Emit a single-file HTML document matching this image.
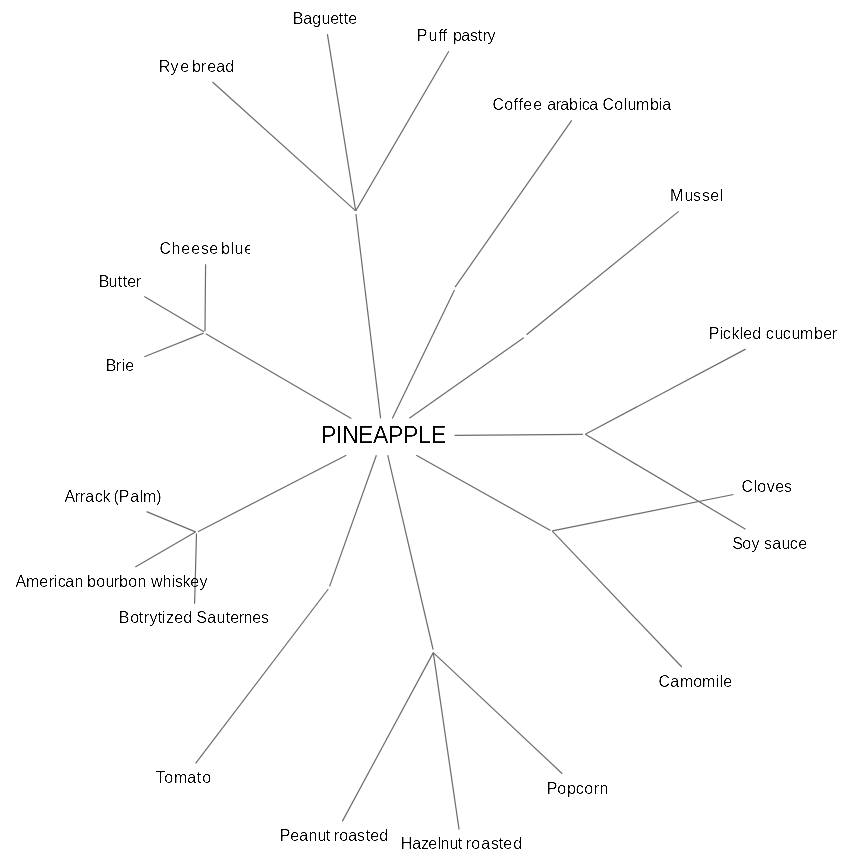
<!DOCTYPE html>
<html><head><meta charset="utf-8"><title>Pineapple</title>
<style>
html,body{margin:0;padding:0;background:#fff;}
body{width:851px;height:864px;position:relative;overflow:hidden;font-family:"Liberation Sans",sans-serif;}
svg{position:absolute;left:0;top:0;will-change:transform;}
text{font-family:"Liberation Sans",sans-serif;fill:#000;}
</style></head><body>
<svg width="851" height="864" viewBox="0 0 851 864">
<defs><clipPath id="cb"><rect x="150" y="235" width="100.3" height="30"/></clipPath>
<filter id="tf" filterUnits="userSpaceOnUse" x="0" y="0" width="851" height="864"><feComponentTransfer><feFuncA type="linear" slope="2.6" intercept="-1.05"/></feComponentTransfer></filter></defs>
<g stroke="#6c6c6c" stroke-width="1.2" fill="none" stroke-linecap="butt">
<line x1="355.7" y1="210.9" x2="212.5" y2="82"/>
<line x1="355.7" y1="210.9" x2="327.4" y2="34.1"/>
<line x1="355.7" y1="210.9" x2="448.8" y2="51.3"/>
<line x1="380.6" y1="418.4" x2="355.9" y2="214"/>
<line x1="392.3" y1="418.4" x2="454.5" y2="289.9"/>
<line x1="455.1" y1="287.1" x2="571.7" y2="120.3"/>
<line x1="409.3" y1="418.2" x2="523.7" y2="337.7"/>
<line x1="526.5" y1="334.8" x2="678.7" y2="211.4"/>
<line x1="454.6" y1="435.3" x2="582.9" y2="434.3"/>
<line x1="585.3" y1="434.3" x2="745.6" y2="349.1"/>
<line x1="585.3" y1="434.3" x2="745.6" y2="529.2"/>
<line x1="416.3" y1="455.2" x2="550.5" y2="530.5"/>
<line x1="552.3" y1="530.9" x2="733.5" y2="494.5"/>
<line x1="552.3" y1="531.2" x2="681.8" y2="667"/>
<line x1="387.7" y1="455.2" x2="433.1" y2="649.5"/>
<line x1="433.3" y1="652.6" x2="342.3" y2="821.4"/>
<line x1="433.3" y1="652.6" x2="459.1" y2="829.6"/>
<line x1="433.3" y1="652.6" x2="562.3" y2="773.7"/>
<line x1="376.4" y1="455.2" x2="329.6" y2="586.4"/>
<line x1="328.3" y1="589" x2="195.6" y2="763.3"/>
<line x1="346.3" y1="455.2" x2="197.9" y2="531.7"/>
<line x1="195.5" y1="531.9" x2="146.6" y2="511.6"/>
<line x1="195.5" y1="531.9" x2="135.3" y2="567.1"/>
<line x1="196.5" y1="533.6" x2="194.6" y2="603.8"/>
<line x1="351.3" y1="418.4" x2="205.8" y2="333.7"/>
<line x1="205" y1="331.3" x2="205.6" y2="264.2"/>
<line x1="203.9" y1="331.7" x2="144.3" y2="296.5"/>
<line x1="203.6" y1="333.1" x2="144.3" y2="356.7"/>
</g>
<g filter="url(#tf)">
<g font-size="16">
<text x="292.75 303.25 312.25 321.5 330.25 338.75 343.75 348.25" y="24">Baguette</text>
<text x="416.75 428.5 438.5 442.5" y="41">Puff</text>
<text x="453 461.25 470 477.75 482.75 487.5" y="41">pastry</text>
<text x="158.75 170.5 180.25" y="72">Rye</text>
<text x="192 200.75 207.25 216.25 225.25" y="72">bread</text>
<text x="492.5 504.25 513.5 518.5 523.25 533.25" y="110">Coffee</text>
<text x="547.25 555.75 560.25 569 578.5 581.75 589.25" y="110">arabica</text>
<text x="602.5 614.25 623.5 627.5 636 650 658.5 662.25" y="110">Columbia</text>
<text x="670 684.5 693 702 710.25 719.5" y="201">Mussel</text>
<text x="159.5 171.5 181.25 191.25 201 209.25" y="254">Cheese</text>
<text x="221 230.5 234.5 244.25" y="254" clip-path="url(#cb)">blue</text>
<text x="98.75 108.5 117.75 122.75 127.25 135.75" y="287">Butter</text>
<text x="105.75 115.75 121.5 125.25" y="371">Brie</text>
<text x="708.75 719.5 722.75 731.5 739.5 743.25 752.25" y="339">Pickled</text>
<text x="765.75 774.5 782.75 791.5 800 814 823.25 831.75" y="339">cucumber</text>
<text x="741.5 753.5 757.25 766.75 775.25 784" y="492">Cloves</text>
<text x="732.25 742.25 751.5" y="549">Soy</text>
<text x="764 772.25 781.5 789.75 798.25" y="549">sauce</text>
<text x="64.5 74.75 79.75 85.25 94.75 102.5" y="502">Arrack</text>
<text x="113.5 118.75 130.25 139.5 143 156.25" y="502">(Palm)</text>
<text x="15.5 26 39.25 48.75 53.5 57.75 65.25 74.5" y="587">American</text>
<text x="87 96.25 105.5 113.75 119 128.25 137.5" y="587">bourbon</text>
<text x="151 162.5 171.5 175 182.5 190.25 199.5" y="587">whiskey</text>
<text x="118.75 130.25 138.75 143.75 149.5 157.75 161.5 166 174.25 183.25" y="623">Botrytized</text>
<text x="196.25 207.25 216.5 225.75 230.25 238.75 243.5 252.25 261" y="623">Sauternes</text>
<text x="658.5 670.25 680 693.25 702 715.5 719.5 723.25" y="687">Camomile</text>
<text x="155.75 164.25 174 187.25 196.75 202.25" y="783">Tomato</text>
<text x="546.75 557.25 567 575.75 584.25 593.75 599.5" y="794">Popcorn</text>
<text x="279.75 290.25 299.25 308.5 317.5 325.75" y="841">Peanut</text>
<text x="333.75 339.25 348.25 357 365.75 370.25 379.25" y="841">roasted</text>
<text x="400.75 412.25 421 428.25 437.5 440.5 449.5 457.75" y="849">Hazelnut</text>
<text x="465.75 471.25 481.25 491 498.75 503.25 513.25" y="849">roasted</text>
</g>
<text x="321 335.75 342.25 358 373 388 403 418 431" y="443" font-size="23">PINEAPPLE</text>
</g>
</svg>
</body></html>
